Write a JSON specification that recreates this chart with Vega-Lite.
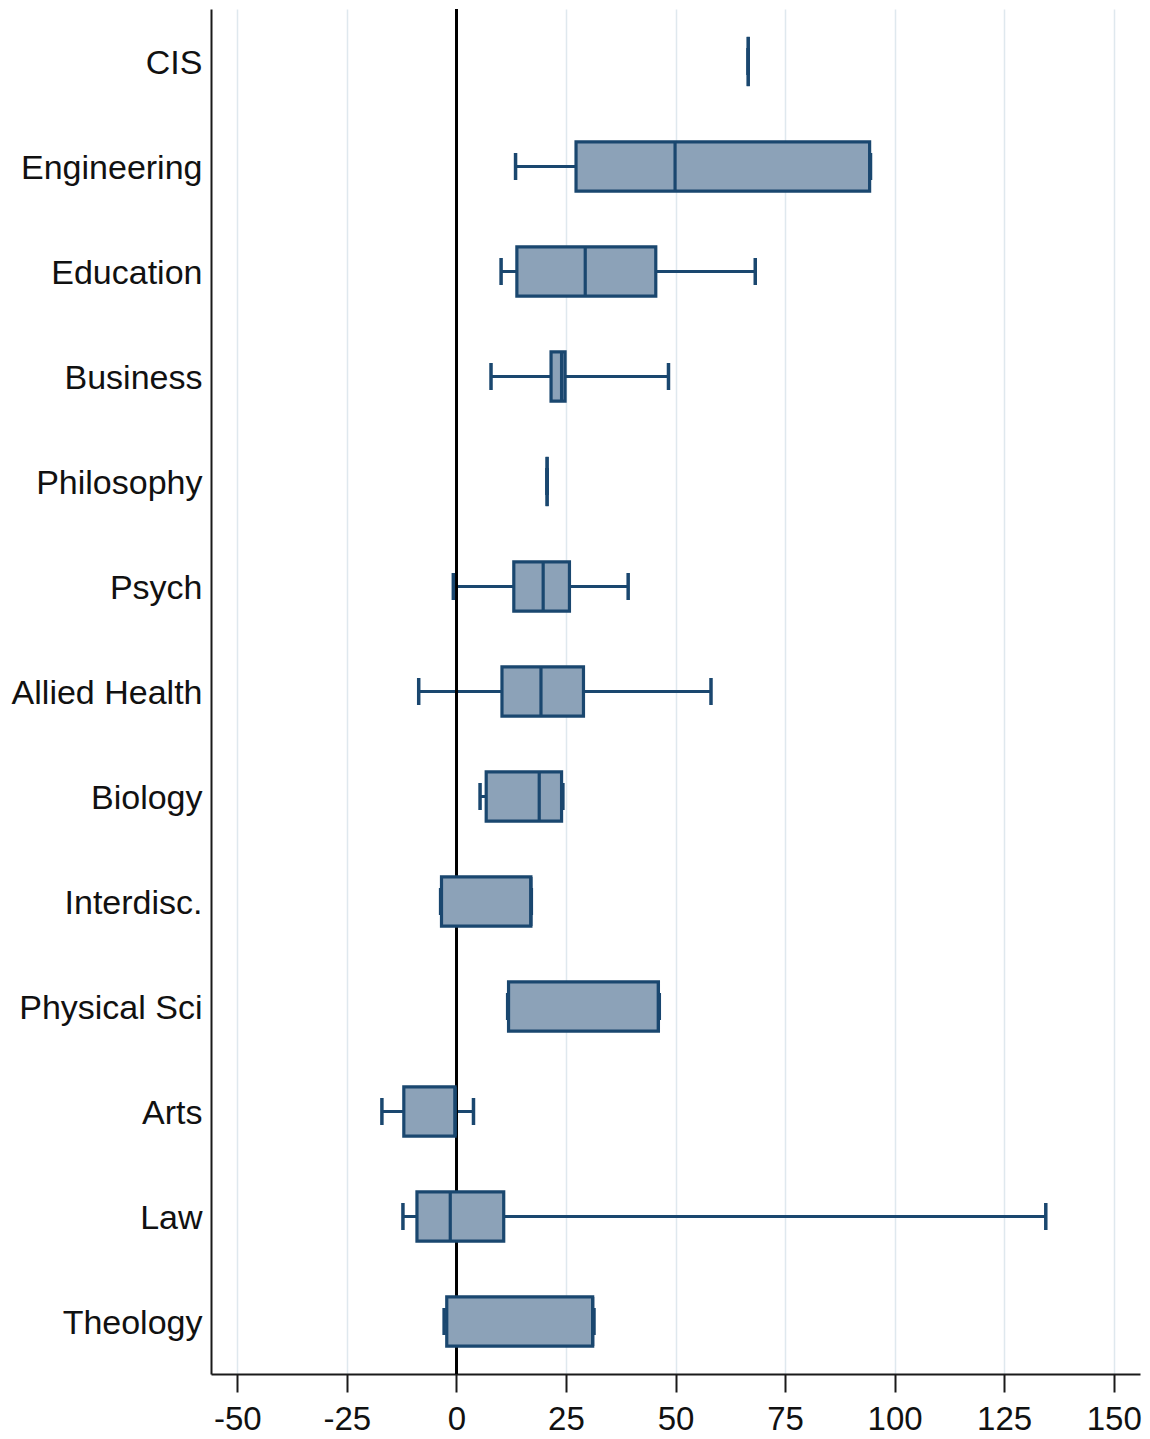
{
  "$schema": "https://vega.github.io/schema/vega-lite/v6.json",
  "width": 929,
  "height": 1365,
  "autosize": {"type": "none"},
  "padding": {"left": 211, "top": 9, "right": 10, "bottom": 65},
  "background": "white",
  "config": {
    "view": {"stroke": null},
    "font": "Liberation Sans"
  },
  "data": {
    "values": [
      {"field": "CIS", "lo": 66.6, "q1": 66.6, "med": 66.6, "q3": 66.6, "hi": 66.6},
      {"field": "Engineering", "lo": 13.5, "q1": 27.3, "med": 49.9, "q3": 94.3, "hi": 94.5},
      {"field": "Education", "lo": 10.2, "q1": 13.8, "med": 29.4, "q3": 45.5, "hi": 68.2},
      {"field": "Business", "lo": 7.9, "q1": 21.6, "med": 24.0, "q3": 24.8, "hi": 48.4},
      {"field": "Philosophy", "lo": 20.7, "q1": 20.7, "med": 20.7, "q3": 20.7, "hi": 20.7},
      {"field": "Psych", "lo": -0.7, "q1": 13.1, "med": 19.8, "q3": 25.8, "hi": 39.2},
      {"field": "Allied Health", "lo": -8.6, "q1": 10.4, "med": 19.3, "q3": 29.0, "hi": 58.1},
      {"field": "Biology", "lo": 5.4, "q1": 6.8, "med": 18.9, "q3": 24.0, "hi": 24.3},
      {"field": "Interdisc.", "lo": -3.6, "q1": -3.4, "med": 17.0, "q3": 17.0, "hi": 17.1},
      {"field": "Physical Sci", "lo": 11.7, "q1": 11.9, "med": 46.1, "q3": 46.1, "hi": 46.3},
      {"field": "Arts", "lo": -17.0, "q1": -12.0, "med": -0.3, "q3": -0.3, "hi": 3.9},
      {"field": "Law", "lo": -12.2, "q1": -9.0, "med": -1.4, "q3": 10.8, "hi": 134.5},
      {"field": "Theology", "lo": -2.8, "q1": -2.2, "med": 31.1, "q3": 31.1, "hi": 31.4}
    ]
  },
  "encoding": {
    "y": {
      "field": "field",
      "type": "nominal",
      "sort": ["CIS", "Engineering", "Education", "Business", "Philosophy", "Psych", "Allied Health", "Biology", "Interdisc.", "Physical Sci", "Arts", "Law", "Theology"],
      "scale": {"paddingInner": 0.53, "paddingOuter": 0.265},
      "axis": {
        "title": null,
        "ticks": false,
        "labelFont": "Liberation Sans",
        "labelFontSize": 34,
        "labelColor": "#111111",
        "labelPadding": 9,
        "labelLimit": 0,
        "labelOffset": 2,
        "domainColor": "#1a1a1a",
        "domainWidth": 2,
        "grid": false
      }
    }
  },
  "layer": [
    {
      "mark": {"type": "rule", "color": "#1a476f", "strokeWidth": 3.2},
      "encoding": {
        "x": {
          "field": "lo",
          "type": "quantitative",
          "scale": {"domain": [-56, 156], "nice": false, "zero": false},
          "axis": {
            "title": null,
            "values": [-50, -25, 0, 25, 50, 75, 100, 125, 150],
            "labelExpr": "replace(datum.label, '\u2212', '-')",
            "labelFont": "Liberation Sans",
            "labelFontSize": 33,
            "labelColor": "#111111",
            "labelPadding": 11,
            "tickSize": 18,
            "tickWidth": 2,
            "tickColor": "#1a1a1a",
            "domainColor": "#1a1a1a",
            "domainWidth": 2,
            "grid": true,
            "gridColor": "#dfe8ee",
            "gridWidth": 1.5
          }
        },
        "x2": {"field": "hi"}
      }
    },
    {
      "mark": {"type": "rule", "color": "#000000", "strokeWidth": 2.5},
      "encoding": {"x": {"datum": 0}, "y": null}
    },
    {
      "mark": {"type": "tick", "color": "#1a476f", "opacity": 1, "thickness": 3.5, "size": 27, "orient": "vertical"},
      "encoding": {"x": {"field": "lo", "type": "quantitative"}}
    },
    {
      "mark": {"type": "tick", "color": "#1a476f", "opacity": 1, "thickness": 3.5, "size": 27, "orient": "vertical"},
      "encoding": {"x": {"field": "hi", "type": "quantitative"}}
    },
    {
      "mark": {"type": "bar", "fill": "#8ca2b8", "fillOpacity": 1, "stroke": "#1a476f", "strokeWidth": 3.2},
      "encoding": {
        "x": {"field": "q1", "type": "quantitative"},
        "x2": {"field": "q3"}
      }
    },
    {
      "mark": {"type": "tick", "color": "#1a476f", "opacity": 1, "thickness": 3.2, "size": 49, "orient": "vertical"},
      "encoding": {"x": {"field": "med", "type": "quantitative"}}
    }
  ]
}
